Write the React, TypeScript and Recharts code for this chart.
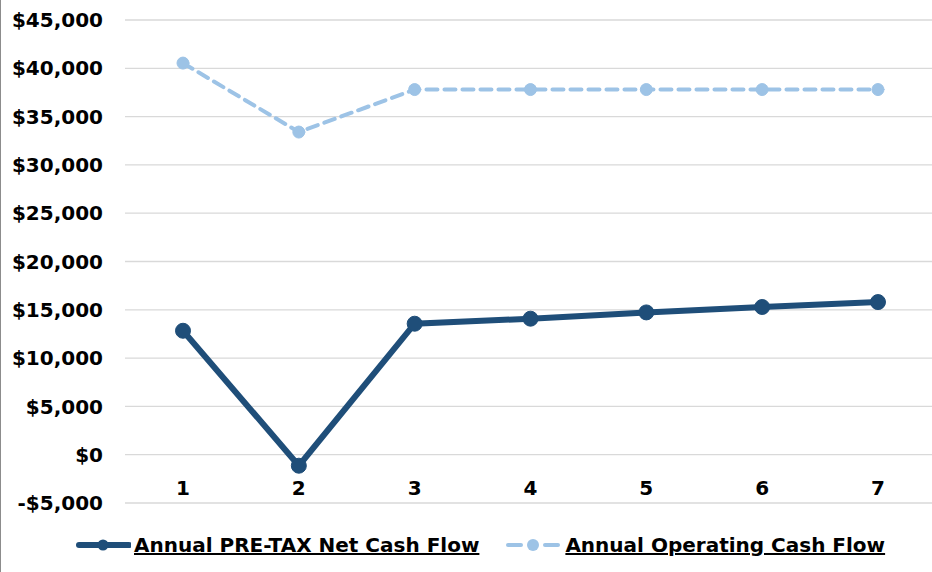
import React from "react";
import {
  LineChart,
  Line,
  XAxis,
  YAxis,
  CartesianGrid,
} from "recharts";

const YEARS = ["1", "2", "3", "4", "5", "6", "7"];
const NET_CASH_FLOW = [12830, -1140, 13560, 14080, 14730, 15290, 15800];
const OPERATING_CASH_FLOW = [40540, 33400, 37800, 37800, 37800, 37800, 37800];
const Y_TICKS = [-5000, 0, 5000, 10000, 15000, 20000, 25000, 30000, 35000, 40000, 45000];

const NET_COLOR = "#1F4E79";
const OP_COLOR = "#9DC3E6";
const FONT = "'DejaVu Sans', Verdana, sans-serif";

const data = YEARS.map((year, i) => ({
  year,
  net: NET_CASH_FLOW[i],
  operating: OPERATING_CASH_FLOW[i],
}));

const formatMoney = (v: number) =>
  (v < 0 ? "-$" : "$") + Math.abs(v).toLocaleString("en-US");

// Excel puts category labels just under the zero line, not under the plot
const XTick = ({ x, y, payload }: any) => (
  <text
    x={x}
    y={y - 16}
    textAnchor="middle"
    fontFamily={FONT}
    fontWeight="bold"
    fontSize={20}
    fill="#000"
  >
    {payload.value}
  </text>
);

const legendText: React.CSSProperties = {
  fontFamily: FONT,
  fontWeight: "bold",
  fontSize: 20,
  textDecoration: "underline",
  color: "#000",
  whiteSpace: "nowrap",
};

export default function App() {
  return (
    <div
      style={{
        position: "absolute",
        left: 0,
        top: 0,
        width: 931,
        height: 572,
        borderLeft: "1px solid #8c8c8c",
        overflow: "hidden",
        background: "#fff",
      }}
    >
      <style>{`body{margin:0}`}</style>
      <LineChart
        width={935}
        height={572}
        data={data}
        margin={{ top: 20, right: 0, left: 0, bottom: 39 }}
      >
        <CartesianGrid vertical={false} stroke="#d9d9d9" strokeWidth={1.3} />
        <XAxis
          dataKey="year"
          axisLine={false}
          tickLine={false}
          height={30}
          tick={<XTick />}
          interval={0}
          padding={{ left: 58, right: 58 }}
        />
        <YAxis
          domain={[-5000, 45000]}
          ticks={Y_TICKS}
          axisLine={false}
          tickLine={false}
          width={124}
          tickMargin={16}
          tickFormatter={formatMoney}
          tick={{ fontFamily: FONT, fontWeight: "bold", fontSize: 20, fill: "#000" }}
          interval={0}
        />
        <Line
          dataKey="operating"
          stroke={OP_COLOR}
          strokeWidth={4}
          strokeDasharray="11 7"
          strokeLinecap="round"
          dot={{ r: 6, fill: OP_COLOR, stroke: OP_COLOR, strokeWidth: 1, strokeDasharray: "" }}
          isAnimationActive={false}
        />
        <Line
          dataKey="net"
          stroke={NET_COLOR}
          strokeWidth={6}
          dot={{ r: 7.5, fill: NET_COLOR, stroke: NET_COLOR, strokeWidth: 1 }}
          isAnimationActive={false}
        />
      </LineChart>

      {/* legend */}
      <div
        style={{
          position: "absolute",
          top: 530,
          left: 74,
          display: "flex",
          alignItems: "center",
          height: 30,
        }}
      >
        <svg width={56} height={14} style={{ marginRight: 3 }}>
          <line x1={4} y1={7} x2={54} y2={7} stroke={NET_COLOR} strokeWidth={6} strokeLinecap="round" />
          <circle cx={28} cy={7} r={5.5} fill={NET_COLOR} />
        </svg>
        <span style={legendText}>Annual PRE-TAX Net Cash Flow</span>
        <svg width={58} height={14} style={{ marginLeft: 25, marginRight: 3 }}>
          <line x1={4} y1={7} x2={17} y2={7} stroke={OP_COLOR} strokeWidth={4} strokeLinecap="round" />
          <circle cx={29} cy={7} r={6} fill={OP_COLOR} />
          <line x1={41} y1={7} x2={54} y2={7} stroke={OP_COLOR} strokeWidth={4} strokeLinecap="round" />
        </svg>
        <span style={legendText}>Annual Operating Cash Flow</span>
      </div>
    </div>
  );
}
